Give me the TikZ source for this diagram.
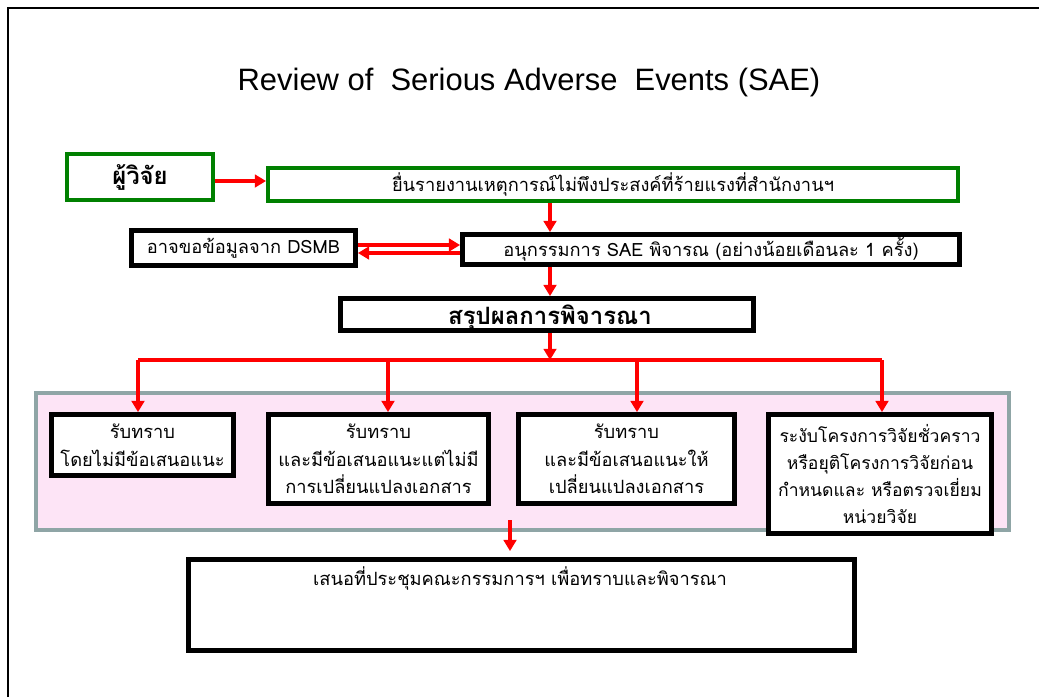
\documentclass[tikz,border=0pt]{standalone}
\usepackage{fontspec}
\setmainfont{Liberation Sans}
\newfontfamily\thaifont[Script=Thai]{Loma}
\usetikzlibrary{arrows.meta}
\definecolor{flowred}{HTML}{FF0000}
\definecolor{boxgreen}{HTML}{008000}
\definecolor{panelpink}{HTML}{FDE4F6}
\definecolor{panelgray}{HTML}{8FA5A6}
\tikzset{
 stepbox/.style={draw=black,line width=3.4pt,fill=white,inner sep=0pt,align=center,font=\thaifont\fontsize{13}{19.6}\selectfont},
 greenbox/.style={stepbox,draw=boxgreen,line width=2.8pt},
 flow/.style={draw=flowred,line width=2.2pt,-{Triangle[length=8pt,width=9pt]}},
}
\begin{document}
\begin{tikzpicture}
\useasboundingbox (0,0) rectangle (25.975,-17.425);
\draw[line width=2pt] (0.2,-17.425) -- (0.2,-0.2) -- (25.975,-0.2);
\node[font=\fontsize{22}{26}\selectfont] (title) at (13.225,-2.05) {Review of \ Serious Adverse \ Events (SAE)};
% top row
\node[greenbox,minimum width=3.65cm,minimum height=1.15cm,font=\thaifont\bfseries\fontsize{17}{20}\selectfont] (res) at (3.5,-4.425) {ผู้วิจัย};
\node[greenbox,minimum width=17.25cm,minimum height=0.825cm] (rep) at (15.325,-4.6125) {ยื่นรายงานเหตุการณ์ไม่พึงประสงค์ที่ร้ายแรงที่สำนักงานฯ};
\node[stepbox,minimum width=5.6cm,minimum height=0.875cm] (dsmb) at (6.0875,-6.2) {อาจขอข้อมูลจาก DSMB};
\node[stepbox,minimum width=12.425cm,minimum height=0.75cm] (sub) at (17.775,-6.2375) {อนุกรรมการ SAE พิจารณ (อย่างน้อยเดือนละ 1 ครั้ง)};
\node[stepbox,minimum width=10.325cm,minimum height=0.8cm] (sum) at (13.675,-7.8625) {};
\node[font=\thaifont\bfseries\fontsize{17}{20}\selectfont,anchor=base,inner sep=0pt] (sumtxt) at (13.75,-8.1) {สรุปผลการพิจารณา};
\draw[flow] (res.east |- 0,-4.525) -- (rep.west |- 0,-4.525);
\draw[flow] (13.75,0 |- rep.south) -- (13.75,0 |- sub.north);
\draw[flow] (dsmb.east |- 0,-6.125) -- (sub.west |- 0,-6.125);
\draw[flow] (sub.west |- 0,-6.325) -- (dsmb.east |- 0,-6.325);
\draw[flow] (13.75,0 |- sub.south) -- (13.75,0 |- sum.north);
% outcomes
\draw[draw=panelgray,fill=panelpink,line width=2.8pt] (0.9,-9.825) rectangle (25.225,-13.25);
\node[stepbox,minimum width=4.55cm,minimum height=1.525cm] (ack) at (3.5625,-11.125) {รับทราบ\\โดยไม่มีข้อเสนอแนะ};
\node[stepbox,minimum width=5.5cm,minimum height=2.225cm] (note) at (9.4625,-11.475) {รับทราบ\\และมีข้อเสนอแนะแต่ไม่มี\\การเปลี่ยนแปลงเอกสาร};
\node[stepbox,minimum width=5.4cm,minimum height=2.225cm] (amend) at (15.6625,-11.475) {รับทราบ\\และมีข้อเสนอแนะให้\\เปลี่ยนแปลงเอกสาร};
\node[stepbox,minimum width=5.575cm,minimum height=2.975cm,font=\thaifont\fontsize{12.5}{19}\selectfont] (halt) at (22.0,-11.85) {ระงับโครงการวิจัยชั่วคราว\\หรือยุติโครงการวิจัยก่อน\\กำหนดและ หรือตรวจเยี่ยม\\หน่วยวิจัย};
\coordinate (split) at (13.75,-9.0);
\draw[flow] (13.75,0 |- sum.south) -- (split);
\draw[draw=flowred,line width=2.2pt] (3.45,-9.0) -- (22.05,-9.0);
\foreach \x/\n in {3.45/ack,9.7/note,15.925/amend,22.05/halt}
 \draw[flow] (\x,-9.0) -- (\x,0 |- \n.north);
% meeting
\node[stepbox,minimum width=16.65cm,minimum height=2.275cm] (meet) at (13.0375,-15.125) {};
\node[font=\thaifont\fontsize{13}{19.6}\selectfont] (meettxt) at (13.0,-14.45) {เสนอที่ประชุมคณะกรรมการฯ เพื่อทราบและพิจารณา};
\coordinate (out) at (12.75,-13.0);
\draw[flow,shorten >=0.15cm] (out) -- (out |- meet.north);
\end{tikzpicture}
\end{document}
